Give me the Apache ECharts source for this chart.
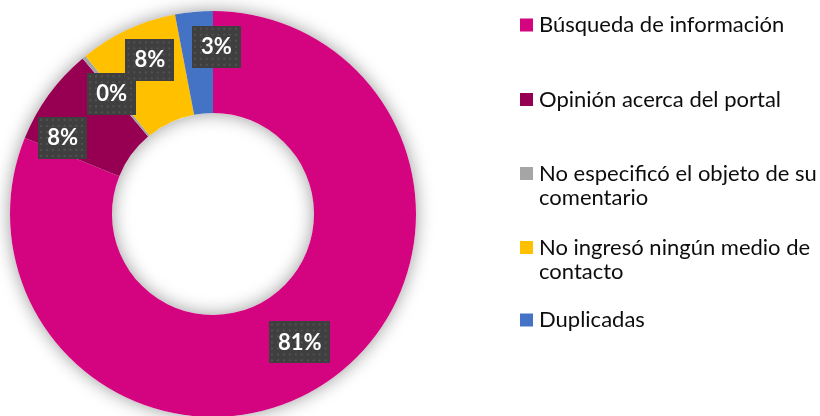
<!DOCTYPE html>
<html>
<head>
<meta charset="utf-8">
<script src="https://cdn.jsdelivr.net/npm/echarts@6/dist/echarts.min.js"></script>
<style>
  html, body { margin: 0; padding: 0; background: #ffffff; }
  #chart { width: 820px; height: 416px; }
</style>
</head>
<body>
<div id="chart"></div>
<script>
// Comment categories and their share of the total (percent)
const categories = [
  'Búsqueda de información',
  'Opinión acerca del portal',
  'No especificó el objeto de su comentario',
  'No ingresó ningún medio de contacto',
  'Duplicadas'
];
const shares = [81.1, 7.8, 0.3, 7.8, 3.0];

// How each legend entry is broken into lines
const legendLines = [
  ['Búsqueda de información'],
  ['Opinión acerca del portal'],
  ['No especificó el objeto de su', 'comentario'],
  ['No ingresó ningún medio de', 'contacto'],
  ['Duplicadas']
];

// Styling
const sliceColors = ['#D4037F', '#970052', '#A5A5A5', '#FFC000', '#4472C4'];
const labelNudge = [[0, 0], [-25, 15], [-3, 0], [2, -13], [18, -13]];
const legendTops = [13, 87.5, 137.5, 211.5, 308];

// Dark dotted tile used behind the percentage labels
function dottedTile(w, h) {
  const c = document.createElement('canvas');
  c.width = w; c.height = h;
  const g = c.getContext('2d');
  g.fillStyle = '#3f3f3f';
  g.fillRect(0, 0, w, h);
  g.fillStyle = '#525252';
  for (let y = 2; y < h; y += 6) {
    for (let x = 2; x < w; x += 6) g.fillRect(x, y, 2, 2);
  }
  return c;
}
const tileWide = dottedTile(62, 42);
const tileNarrow = dottedTile(50, 42);

const chart = echarts.init(document.getElementById('chart'));

const pieData = categories.map((name, i) => ({
  name: name,
  value: shares[i],
  itemStyle: { color: sliceColors[i] },
  label: {
    offset: labelNudge[i],
    backgroundColor: { image: Math.round(shares[i]) >= 10 ? tileWide : tileNarrow }
  }
}));

const legends = categories.map((name, i) => ({
  data: [name],
  orient: 'vertical',
  left: 520,
  top: legendTops[i],
  padding: 0,
  icon: 'rect',
  itemWidth: 13,
  itemHeight: 13,
  itemGap: 0,
  selectedMode: false,
  formatter: () => {
    const lines = legendLines[i];
    return lines.length > 1 ? ' \n' + lines.join('\n') : lines[0];
  },
  textStyle: {
    fontFamily: 'Lato',
    fontSize: 22,
    lineHeight: 24,
    color: '#0d0d0d',
    padding: [0, 0, 0, 1]
  }
}));

chart.setOption({
  animation: false,
  legend: legends,
  series: [
    {
      // soft shadow ring underneath the slices
      type: 'pie',
      silent: true,
      center: [213, 214],
      radius: [101, 203],
      label: { show: false },
      labelLine: { show: false },
      itemStyle: {
        color: '#ffffff',
        shadowBlur: 18,
        shadowColor: 'rgba(0,0,0,0.4)'
      },
      data: [{ value: 1, name: '' }],
      z: 1
    },
    {
      type: 'pie',
      center: [213, 214],
      radius: [101, 203],
      startAngle: 90,
      clockwise: true,
      avoidLabelOverlap: false,
      minShowLabelAngle: 0,
      labelLayout: { hideOverlap: false },
      z: 2,
      itemStyle: { borderWidth: 0 },
      label: {
        show: true,
        position: 'inside',
        formatter: p => Math.round(p.value) + '%',
        fontFamily: 'Lato',
        fontWeight: 'bold',
        fontSize: 22,
        lineHeight: 22,
        color: '#ffffff',
        padding: [10, 9],
        shadowColor: 'rgba(0,0,0,0.45)',
        shadowBlur: 4,
        shadowOffsetX: 2,
        shadowOffsetY: 2
      },
      labelLine: { show: false },
      emphasis: { scale: false },
      data: pieData
    }
  ]
});
</script>
</body>
</html>
